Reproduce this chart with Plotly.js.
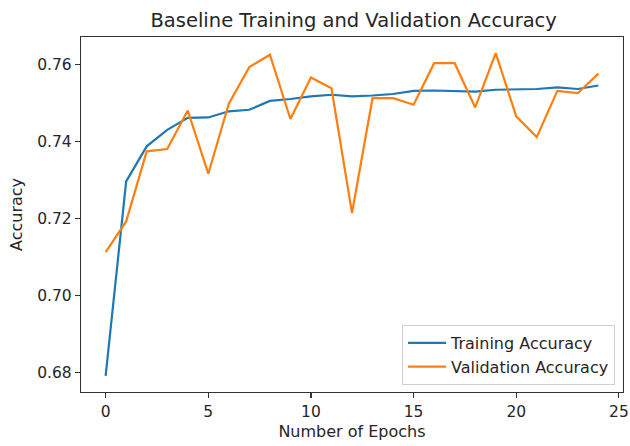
<!DOCTYPE html>
<html>
<head>
<meta charset="utf-8">
<script src="https://cdn.plot.ly/plotly-3.0.1.min.js"></script>
<style>html,body{margin:0;padding:0;background:#fff;}#chart{width:630px;height:446px;}</style>
</head>
<body>
<div id="chart"></div>
<script>
const epochs = [0,1,2,3,4,5,6,7,8,9,10,11,12,13,14,15,16,17,18,19,20,21,22,23,24];
const trainingAccuracy = [0.6792,0.7297,0.7388,0.7431,0.7462,0.7463,0.7479,0.7483,0.7506,0.7511,0.7518,0.7522,0.7518,0.7520,0.7524,0.7532,0.7533,0.7531,0.7530,0.7535,0.7536,0.7537,0.7541,0.7537,0.7546];
const validationAccuracy = [0.7113,0.7193,0.7375,0.7381,0.7481,0.7317,0.7499,0.7594,0.7626,0.7459,0.7567,0.7539,0.7215,0.7513,0.7513,0.7496,0.7604,0.7604,0.7489,0.7630,0.7466,0.7412,0.7532,0.7526,0.7577];
const xTicks = [0,5,10,15,20,25];
const yTicks = [0.68,0.70,0.72,0.74,0.76];
const yTickText = ["0.68","0.70","0.72","0.74","0.76"];

const font = "DejaVu Sans, sans-serif";
const textColor = "#262626";

const traces = [
  {x: epochs, y: trainingAccuracy, type: "scatter", mode: "lines", name: "Training Accuracy",
   line: {color: "#1f77b4", width: 2.2}},
  {x: epochs, y: validationAccuracy, type: "scatter", mode: "lines", name: "Validation Accuracy",
   line: {color: "#ff7f0e", width: 2.2}}
];

const axisCommon = {
  showgrid: false, zeroline: false, showline: true, mirror: true,
  linecolor: "#333", linewidth: 1.2, ticks: "outside", ticklen: 5, tickwidth: 1.2, tickcolor: "#333",
  tickfont: {family: font, size: 15.5, color: textColor}, ticklabeloverflow: "allow"
};

const layout = {
  width: 630, height: 446,
  margin: {l: 81, r: 7, t: 37, b: 54},
  paper_bgcolor: "#fff", plot_bgcolor: "#fff",
  title: {text: "Baseline Training and Validation Accuracy", font: {family: font, size: 19.5, color: textColor},
          x: 0.5614, xanchor: "center", y: 0.955, yanchor: "middle"},
  xaxis: Object.assign({}, axisCommon, {range: [-1.2, 25.2], tickvals: xTicks,
          title: {text: "Number of Epochs", font: {family: font, size: 16, color: textColor}, standoff: 6}}),
  yaxis: Object.assign({}, axisCommon, {range: [0.6750, 0.7672], tickvals: yTicks, ticktext: yTickText,
          title: {text: "Accuracy", font: {family: font, size: 16, color: textColor}, standoff: 10}}),
  showlegend: true,
  legend: {x: 0.9853, y: 0.0197, xanchor: "right", yanchor: "bottom",
           bordercolor: "#d0d0d0", borderwidth: 1, bgcolor: "rgba(255,255,255,0.8)",
           font: {family: font, size: 16, color: textColor}, itemwidth: 38}
};

Plotly.newPlot("chart", traces, layout, {displayModeBar: false, staticPlot: true});
</script>
</body>
</html>
